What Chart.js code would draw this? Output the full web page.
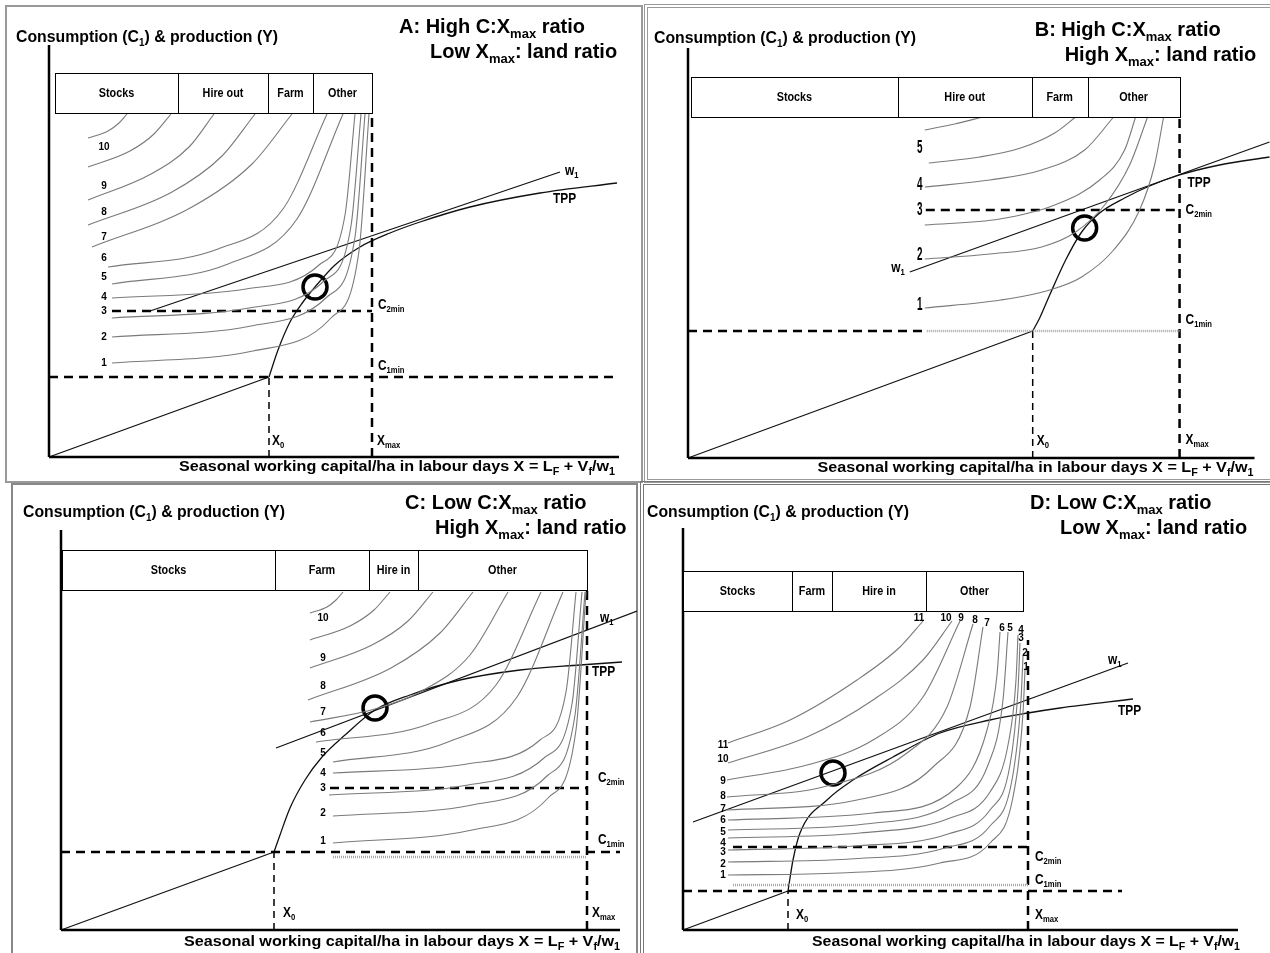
<!DOCTYPE html>
<html>
<head>
<meta charset="utf-8">
<script src="https://cdn.jsdelivr.net/npm/chart.js@4.4.1/dist/chart.umd.min.js"></script>
<style>
  body { margin: 0; background: #fff; width: 1270px; height: 953px; position: relative; overflow: hidden; }
  .frame { position: absolute; box-sizing: border-box; }
  canvas { position: absolute; }
</style>
</head>
<body>
<div class="frame" style="left:5px;top:5px;width:638px;height:478px;border:2px solid #999"></div>
<div class="frame" style="left:644px;top:4px;width:640px;height:479px;border:4px double #999"></div>
<div class="frame" style="left:11px;top:483px;width:627px;height:480px;border:2px solid #888"></div>
<div class="frame" style="left:640px;top:481px;width:640px;height:480px;border:4px double #777"></div>

<canvas id="chartA" width="638" height="478" style="left:5px;top:5px"></canvas>
<canvas id="chartB" width="625" height="478" style="left:645px;top:5px"></canvas>
<canvas id="chartC" width="625" height="470" style="left:12px;top:483px"></canvas>
<canvas id="chartD" width="629" height="471" style="left:641px;top:482px"></canvas>

<script>
// ---- Panel A : high C:Xmax, low Xmax:land ----
const aXMax = 57, aYMax = 41.2;
const aTableEdges = [0.6, 12.9, 21.9, 26.4, 32.3];
const aTableLabels = ['Stocks', 'Hire out', 'Farm', 'Other'];
const aTableY = [34.4, 38.4];
const aC1min = [8.0, 0, 56.8];     // level, from x, to x
const aC2min = [14.6, 6.3, 32.3];
const aXmaxLine = [32.3, 0, 34.4]; // x, from y, to y
const aX0Line = [22.0, 0, 8.0];
const aTppLinear = [[0, 0], [22, 8]];
const aTpp = [[22, 8], [22.9, 10.7], [24.1, 13.5], [25.4, 15.5], [26.6, 17], [28.6, 19.2], [31.1, 21], [34.1, 22.4], [37.1, 23.5], [42.1, 25], [49.1, 26.4], [56.8, 27.4]];
const aW1 = [[10.1, 14.6], [51.1, 28.5]];
const aOptimum = [26.6, 17.0];
const aCurves = [
  [[3.9, 31.9], [5.9, 32.6], [7.0, 33.4], [7.8, 34.3]],
  [[3.9, 29.0], [8.1, 30.6], [10.5, 32.3], [12.2, 34.3]],
  [[3.9, 25.7], [10.2, 28.3], [14.0, 31.0], [16.5, 34.3]],
  [[3.9, 23.2], [12.3, 26.5], [17.3, 30.1], [20.6, 34.3]],
  [[4.3, 21.0], [14.3, 25.0], [20.3, 29.3], [24.3, 34.3]],
  [[5.9, 19.0], [16.9, 20.8], [23.4, 24.8], [27.8, 34.3]],
  [[6.3, 17.3], [17.9, 19.3], [24.8, 23.8], [29.4, 34.3]],
  [[6.3, 15.9], [19.7, 16.8], [27.0, 19.2], [29.6, 24.2], [30.6, 34.3]],
  [[6.3, 13.9], [20.0, 14.9], [27.5, 17.6], [30.2, 23.1], [31.2, 34.3]],
  [[6.3, 12.0], [20.2, 13.1], [27.8, 16.0], [30.6, 22.0], [31.6, 34.3]],
  [[6.3, 9.4], [20.4, 10.6], [28.2, 13.9], [31.0, 20.6], [32.0, 34.3]]
];
const aCurveNums = ['10', '9', '8', '7', '6', '5', '4', '3', '2', '1'];
const aCurveNumY = [31.0, 27.1, 24.5, 22.0, 19.9, 18.0, 16.0, 14.6, 12.0, 9.4];

// ---- Panel B : high C:Xmax, high Xmax:land ----
const bXMax = 56.7, bYMax = 41;
const bTableEdges = [0.3, 21.0, 34.4, 40.0, 49.2];
const bTableLabels = ['Stocks', 'Hire out', 'Farm', 'Other'];
const bTableY = [34.1, 38.1];
const bC1min = [12.7, 0, 23.5];
const bFloor = [12.7, 23.9, 49.2];
const bC2min = [24.8, 23.8, 49.2];
const bXmaxLine = [49.2, 0, 34.1];
const bX0Line = [34.5, 0, 12.7];
const bTppLinear = [[0, 0], [34.5, 12.7]];
const bTpp = [[34.5, 12.7], [35.2, 14.0], [36.2, 16.3], [37.8, 19.8], [39.4, 22.6], [41.2, 24.5], [43.7, 26.0], [46.2, 27.2], [49.2, 28.3], [53.2, 29.3], [58.2, 30.1]];
const bW1 = [[22.2, 18.6], [58.2, 31.6]];
const bOptimum = [39.7, 23.0];
const bCurves = [
  [[23.7, 32.8], [26.7, 33.4], [29.5, 34.1]],
  [[24.1, 29.5], [29.2, 30.1], [33.3, 31.0], [36.7, 32.5], [38.8, 34.1]],
  [[23.7, 27.1], [30.2, 27.8], [35.4, 28.8], [39.7, 30.8], [42.6, 34.1]],
  [[23.7, 23.3], [31.2, 23.9], [36.7, 25.3], [41.2, 27.8], [43.7, 30.8], [44.8, 34.1]],
  [[23.7, 19.9], [30.2, 20.4], [35.4, 21.1], [38.8, 22.6], [41.7, 25.3], [44.2, 29.3], [46.0, 34.1]],
  [[23.7, 15.0], [31.3, 15.8], [36.2, 16.8], [39.4, 18.1], [42.6, 20.8], [45.2, 24.8], [46.7, 29.3], [47.6, 34.1]]
];
const bCurveNums = ['5', '4', '3', '2', '1'];
const bCurveNumY = [31.0, 27.3, 24.8, 20.3, 15.3];

// ---- Panel C : low C:Xmax, high Xmax:land ----
const cXMax = 55.9, cYMax = 40;
const cTableEdges = [0.1, 21.4, 30.8, 35.7, 52.6];
const cTableLabels = ['Stocks', 'Farm', 'Hire in', 'Other'];
const cTableY = [34, 38];
const cC1min = [7.8, 0, 55.9];
const cFloor = [7.3, 27.2, 52.5];
const cC2min = [14.2, 26.9, 52.6];
const cXmaxLine = [52.6, 0, 34];
const cX0Line = [21.3, 0, 7.8];
const cTppLinear = [[0, 0], [21.3, 7.8]];
const cTpp = [[21.3, 7.8], [21.9, 9.5], [22.9, 12.2], [24.4, 15.0], [26.1, 17.3], [28.4, 19.5], [31.4, 22.0], [34.9, 23.5], [39.9, 25.0], [45.9, 26.0], [51.9, 26.5], [56.1, 26.8]];
const cW1 = [[21.5, 18.2], [57.6, 31.9]];
const cOptimum = [31.4, 22.2];
const cCurves = [
  [[24.9, 31.7], [26.6, 32.3], [27.5, 33.0], [28.2, 33.8]],
  [[24.9, 29.0], [28.9, 30.4], [31.3, 32.0], [32.9, 33.8]],
  [[24.9, 26.2], [31.1, 28.5], [34.7, 30.9], [37.2, 33.8]],
  [[24.7, 23.0], [33.0, 26.2], [37.9, 29.7], [41.2, 33.8]],
  [[24.9, 20.8], [31.4, 22.1], [35.9, 23.8], [40.9, 27.5], [44.7, 33.8]],
  [[25.5, 18.8], [36.8, 20.6], [43.5, 24.5], [48.0, 33.8]],
  [[27.2, 16.8], [38.7, 18.8], [45.6, 23.3], [50.2, 33.8]],
  [[27.2, 15.7], [40.6, 16.6], [47.9, 19.0], [50.5, 23.8], [51.5, 33.8]],
  [[26.8, 13.5], [40.7, 14.5], [48.3, 17.2], [51.1, 22.6], [52.1, 33.8]],
  [[27.2, 11.4], [41.1, 12.5], [48.6, 15.4], [51.4, 21.5], [52.4, 33.8]],
  [[27.2, 8.7], [41.1, 10.0], [48.7, 13.2], [51.5, 20.0], [52.5, 33.8]]
];
const cCurveNums = ['10', '9', '8', '7', '6', '5', '4', '3', '2', '1'];
const cCurveNumY = [31.2, 27.2, 24.4, 21.8, 19.7, 17.7, 15.7, 14.2, 11.7, 8.9];

// ---- Panel D : low C:Xmax, low Xmax:land ----
const dXMax = 55.5, dYMax = 40.2;
const dTableEdges = [0, 10.9, 14.9, 24.3, 34.0];
const dTableLabels = ['Stocks', 'Farm', 'Hire in', 'Other'];
const dTableY = [31.9, 35.9];
const dC1min = [3.9, 0, 43.9];
const dFloor = [4.5, 5.0, 34.5];
const dC2min = [8.3, 5.0, 34.5];
const dXmaxLine = [34.5, 0, 29];
const dX0Line = [10.5, 0, 3.9];
const dTppLinear = [[0, 0], [10.5, 3.9]];
const dTpp = [[10.5, 3.9], [11.0, 7.0], [11.7, 9.7], [14.4, 13.0], [17.0, 15.0], [21.0, 17.3], [25.7, 19.7], [30.7, 21.0], [34.5, 21.7], [37.7, 22.2], [45.0, 23.1]];
const dW1 = [[1.0, 10.8], [44.5, 26.7]];
const dOptimum = [15.0, 15.7];
const dCurves = [
  [[4.5, 18.7], [10.7, 21.0], [17.4, 25.0], [21.7, 28.3], [24.0, 30.9]],
  [[4.5, 16.7], [12.4, 19.3], [19.0, 23.0], [24.0, 27.0], [26.9, 30.9]],
  [[4.4, 15.0], [12.4, 16.5], [19.0, 19.0], [24.0, 23.3], [27.7, 30.9]],
  [[4.4, 13.3], [14.0, 14.3], [22.4, 17.7], [26.4, 22.3], [29.0, 30.6]],
  [[4.4, 12.0], [17.4, 13.0], [25.0, 16.3], [28.7, 22.3], [30.0, 30.3]],
  [[4.5, 11.0], [19.0, 11.7], [27.4, 14.3], [30.4, 20.0], [31.4, 25.5], [31.7, 29.8]],
  [[4.5, 10.0], [18.2, 10.6], [26.9, 12.7], [30.5, 16.5], [32.0, 23.0], [32.5, 29.8]],
  [[4.5, 9.2], [17.7, 9.7], [26.7, 11.2], [30.7, 13.8], [32.5, 18.5], [33.3, 25.0], [33.5, 29.5]],
  [[4.5, 8.0], [17.2, 8.4], [26.5, 9.6], [30.7, 12.0], [32.7, 16.5], [33.5, 24.0], [33.7, 28.7]],
  [[4.5, 6.8], [16.7, 7.1], [26.2, 8.2], [30.7, 10.4], [32.9, 15.0], [33.8, 23.0], [34.0, 27.4]],
  [[4.5, 5.5], [15.7, 5.7], [25.7, 6.7], [30.7, 8.7], [33.0, 13.3], [34.0, 21.7], [34.2, 26.0]]
];
const dCurveNums = ['11', '10', '9', '8', '7', '6', '5', '4', '3', '2', '1'];
const dCurveNumY = [18.5, 17.1, 14.9, 13.4, 12.1, 11.0, 9.8, 8.7, 7.8, 6.6, 5.5];
const dTopNumX = [23.6, 26.3, 27.8, 29.2, 30.4, 31.9, 32.7, 33.8, 33.8, 34.2, 34.3];
const dTopNumY = [31.2, 31.2, 31.2, 31.0, 30.7, 30.2, 30.2, 30.0, 29.2, 27.7, 26.3];

// ---- styles ----
const FONT = '"Liberation Sans", Arial, sans-serif';
const AXIS = { borderWidth: 2.5, borderColor: '#000' };
const CURVE = { borderWidth: 1.1, borderColor: '#7a7a7a', cubicInterpolationMode: 'monotone' };
const DASH = { borderWidth: 2.5, borderColor: '#000', borderDash: [9, 6] };
const THIN_DASH = { borderWidth: 1.5, borderColor: '#000', borderDash: [7, 5] };
const FLOOR = { borderWidth: 2.5, borderColor: '#a8a8a8', borderDash: [1, 1] };
const TPP = { borderWidth: 1.3, borderColor: '#111', cubicInterpolationMode: 'monotone' };
const W1 = { borderWidth: 1.3, borderColor: '#111' };

const T_TITLE = { size: 20, bold: true, subSize: 13 };
const T_YLAB = { size: 16, bold: true, w: 262 };
const T_XLAB = { size: 15, bold: true, w: 436, align: 'right' };
const T_NOTE = { size: 14, bold: true, sx: 0.85 };
const T_NUM = { size: 10, bold: true, align: 'center' };
const T_NUM_B = { size: 18, bold: true, sx: 0.55, align: 'center' };
const T_CELL = { size: 12, bold: true, sx: 0.9, align: 'center' };

const Y_LABEL = 'Consumption (C_{1}) & production (Y)';
const X_LABEL = 'Seasonal working capital/ha in labour days X = L_{F} + V_{f}/w_{1}';

// text with _{...} subscripts, squeezed horizontally if asked
function drawRich(ctx, str, x, y, o) {
  const parts = str.split(/(_\{[^}]*\})/).filter(p => p !== '').map(p =>
    p.startsWith('_{') ? { t: p.slice(2, -1), sub: true } : { t: p, sub: false });
  const mainFont = (o.bold ? 'bold ' : '') + o.size + 'px ' + FONT;
  const subBold = o.subBold !== undefined ? o.subBold : o.bold;
  const subFont = (subBold ? 'bold ' : '') + (o.subSize || Math.round(o.size * 0.65)) + 'px ' + FONT;
  let total = 0;
  parts.forEach(p => {
    ctx.font = p.sub ? subFont : mainFont;
    p.w = ctx.measureText(p.t).width;
    total += p.w;
  });
  const sx = o.w ? o.w / total : (o.sx || 1);
  let left = x;
  if (o.align === 'center') left = x - total * sx / 2;
  if (o.align === 'right') left = x - total * sx;
  ctx.save();
  ctx.translate(left, y);
  ctx.scale(sx, 1);
  ctx.fillStyle = '#000';
  ctx.textBaseline = 'middle';
  ctx.textAlign = 'left';
  let cx = 0;
  parts.forEach(p => {
    ctx.font = p.sub ? subFont : mainFont;
    ctx.fillText(p.t, cx, p.sub ? o.size * 0.35 : 0);
    cx += p.w;
  });
  ctx.restore();
}

// labels, the activity table on top of the curves, then the rest of the text
function makeNotes(p) {
  return {
    id: 'notes',
    afterDatasetsDraw(chart) {
      const ctx = chart.ctx, xs = chart.scales.x, ys = chart.scales.y;
      const put = n => drawRich(ctx, n.s, xs.getPixelForValue(n.x), ys.getPixelForValue(n.y), n.o);
      p.under.forEach(put);

      const top = Math.round(ys.getPixelForValue(p.tableY[1])) + 0.5;
      const bot = Math.round(ys.getPixelForValue(p.tableY[0])) + 0.5;
      const x0 = Math.round(xs.getPixelForValue(p.tableEdges[0])) + 0.5;
      const x1 = Math.round(xs.getPixelForValue(p.tableEdges[p.tableEdges.length - 1])) + 0.5;
      ctx.save();
      ctx.fillStyle = '#fff';
      ctx.fillRect(x0, top, x1 - x0, bot - top);
      ctx.strokeStyle = '#000';
      ctx.lineWidth = 1;
      ctx.strokeRect(x0, top, x1 - x0, bot - top);
      p.tableEdges.slice(1, -1).forEach(e => {
        const px = Math.round(xs.getPixelForValue(e)) + 0.5;
        ctx.beginPath();
        ctx.moveTo(px, top);
        ctx.lineTo(px, bot);
        ctx.stroke();
      });
      ctx.restore();
      p.tableLabels.forEach((l, i) => {
        const cx = xs.getPixelForValue((p.tableEdges[i] + p.tableEdges[i + 1]) / 2);
        drawRich(ctx, l, cx, (top + bot) / 2, T_CELL);
      });

      p.texts.forEach(put);
    }
  };
}

function seg(points, style) {
  return Object.assign({
    data: points.map(pt => ({ x: pt[0], y: pt[1] })),
    borderColor: '#000',
    borderWidth: 1,
    pointRadius: 0,
    fill: false,
    tension: 0,
    clip: false
  }, style);
}

function buildPanel(id, p) {
  const datasets = [
    seg([[0, 0], [p.xMax, 0]], AXIS),
    seg([[0, 0], [0, p.yMax]], AXIS)
  ];
  p.curves.forEach(c => datasets.push(seg(c, CURVE)));
  if (p.floor) datasets.push(seg([[p.floor[1], p.floor[0]], [p.floor[2], p.floor[0]]], FLOOR));
  datasets.push(seg([[p.c1min[1], p.c1min[0]], [p.c1min[2], p.c1min[0]]], DASH));
  datasets.push(seg([[p.c2min[1], p.c2min[0]], [p.c2min[2], p.c2min[0]]], DASH));
  datasets.push(seg([[p.xmaxLine[0], p.xmaxLine[1]], [p.xmaxLine[0], p.xmaxLine[2]]], DASH));
  datasets.push(seg([[p.x0Line[0], p.x0Line[1]], [p.x0Line[0], p.x0Line[2]]], THIN_DASH));
  datasets.push(seg(p.tppLinear, W1));
  datasets.push(seg(p.tpp, TPP));
  datasets.push(seg(p.w1, W1));
  datasets.push(seg([p.optimum], {
    showLine: false,
    pointRadius: 12,
    pointBorderWidth: 3.5,
    pointBorderColor: '#000',
    pointBackgroundColor: 'rgba(0,0,0,0)'
  }));

  return new Chart(document.getElementById(id), {
    type: 'line',
    data: { datasets },
    options: {
      responsive: false,
      animation: false,
      events: [],
      layout: { padding: p.padding },
      scales: {
        x: { type: 'linear', min: 0, max: p.xMax, display: false },
        y: { type: 'linear', min: 0, max: p.yMax, display: false }
      },
      plugins: { legend: { display: false }, tooltip: { enabled: false } }
    },
    plugins: [makeNotes(p)]
  });
}

function numLabels(nums, x, ys, style) {
  return nums.map((n, i) => ({ s: n, x: Array.isArray(x) ? x[i] : x, y: ys[i], o: style }));
}

// Panel A
buildPanel('chartA', {
  xMax: aXMax, yMax: aYMax, padding: { left: 44, top: 40, right: 24, bottom: 26 },
  tableEdges: aTableEdges, tableLabels: aTableLabels, tableY: aTableY,
  c1min: aC1min, c2min: aC2min, xmaxLine: aXmaxLine, x0Line: aX0Line,
  tppLinear: aTppLinear, tpp: aTpp, w1: aW1, optimum: aOptimum, curves: aCurves,
  under: numLabels(aCurveNums, 5.5, aCurveNumY, T_NUM),
  texts: [
    { s: Y_LABEL, x: -3.3, y: 41.9, o: T_YLAB },
    { s: 'A: High C:X_{max} ratio', x: 35.0, y: 43.0, o: T_TITLE },
    { s: 'Low X_{max}: land ratio', x: 38.1, y: 40.5, o: T_TITLE },
    { s: X_LABEL, x: 56.6, y: -1.0, o: T_XLAB },
    { s: 'C_{2min}', x: 32.9, y: 15.2, o: T_NOTE },
    { s: 'C_{1min}', x: 32.9, y: 9.1, o: T_NOTE },
    { s: 'X_{0}', x: 22.3, y: 1.6, o: T_NOTE },
    { s: 'X_{max}', x: 32.8, y: 1.6, o: T_NOTE },
    { s: 'w_{1}', x: 51.6, y: 28.6, o: T_NOTE },
    { s: 'TPP', x: 50.4, y: 25.8, o: T_NOTE }
  ]
});

// Panel B
buildPanel('chartB', {
  xMax: bXMax, yMax: bYMax, padding: { left: 43, top: 43, right: 15, bottom: 25 },
  tableEdges: bTableEdges, tableLabels: bTableLabels, tableY: bTableY,
  c1min: bC1min, floor: bFloor, c2min: bC2min, xmaxLine: bXmaxLine, x0Line: bX0Line,
  tppLinear: bTppLinear, tpp: bTpp, w1: bW1, optimum: bOptimum, curves: bCurves,
  under: [{ s: '6', x: 23.3, y: 34.6, o: T_NUM_B }].concat(numLabels(bCurveNums, 23.2, bCurveNumY, T_NUM_B)),
  texts: [
    { s: Y_LABEL, x: -3.4, y: 41.9, o: T_YLAB },
    { s: 'B: High C:X_{max} ratio', x: 34.7, y: 42.8, o: T_TITLE },
    { s: 'High X_{max}: land ratio', x: 37.7, y: 40.3, o: T_TITLE },
    { s: X_LABEL, x: 56.6, y: -1.0, o: T_XLAB },
    { s: 'C_{2min}', x: 49.8, y: 24.8, o: T_NOTE },
    { s: 'C_{1min}', x: 49.8, y: 13.8, o: T_NOTE },
    { s: 'X_{0}', x: 34.9, y: 1.7, o: T_NOTE },
    { s: 'X_{max}', x: 49.8, y: 1.8, o: T_NOTE },
    { s: 'w_{1}', x: 21.7, y: 19.0, o: Object.assign({}, T_NOTE, { align: 'right' }) },
    { s: 'TPP', x: 50.0, y: 27.5, o: T_NOTE }
  ]
});

// Panel C
buildPanel('chartC', {
  xMax: cXMax, yMax: cYMax, padding: { left: 49, top: 47, right: 17, bottom: 23 },
  tableEdges: cTableEdges, tableLabels: cTableLabels, tableY: cTableY,
  c1min: cC1min, floor: cFloor, c2min: cC2min, xmaxLine: cXmaxLine, x0Line: cX0Line,
  tppLinear: cTppLinear, tpp: cTpp, w1: cW1, optimum: cOptimum, curves: cCurves,
  under: numLabels(cCurveNums, 26.2, cCurveNumY, T_NUM),
  texts: [
    { s: Y_LABEL, x: -3.8, y: 41.7, o: T_YLAB },
    { s: 'C: Low C:X_{max} ratio', x: 34.4, y: 42.7, o: T_TITLE },
    { s: 'High X_{max}: land ratio', x: 37.4, y: 40.2, o: T_TITLE },
    { s: X_LABEL, x: 55.9, y: -1.2, o: T_XLAB },
    { s: 'C_{2min}', x: 53.7, y: 15.2, o: T_NOTE },
    { s: 'C_{1min}', x: 53.7, y: 9.0, o: T_NOTE },
    { s: 'X_{0}', x: 22.2, y: 1.7, o: T_NOTE },
    { s: 'X_{max}', x: 53.1, y: 1.7, o: T_NOTE },
    { s: 'w_{1}', x: 53.9, y: 31.2, o: T_NOTE },
    { s: 'TPP', x: 53.1, y: 25.8, o: T_NOTE }
  ]
});

// Panel D
buildPanel('chartD', {
  xMax: dXMax, yMax: dYMax, padding: { left: 42, top: 46, right: 32, bottom: 23 },
  tableEdges: dTableEdges, tableLabels: dTableLabels, tableY: dTableY,
  c1min: dC1min, floor: dFloor, c2min: dC2min, xmaxLine: dXmaxLine, x0Line: dX0Line,
  tppLinear: dTppLinear, tpp: dTpp, w1: dW1, optimum: dOptimum, curves: dCurves,
  under: numLabels(dCurveNums, 4.0, dCurveNumY, T_NUM),
  texts: numLabels(dCurveNums, dTopNumX, dTopNumY, T_NUM).concat([
    { s: Y_LABEL, x: -3.6, y: 41.7, o: T_YLAB },
    { s: 'D: Low C:X_{max} ratio', x: 34.7, y: 42.7, o: T_TITLE },
    { s: 'Low X_{max}: land ratio', x: 37.7, y: 40.2, o: T_TITLE },
    { s: X_LABEL, x: 55.7, y: -1.2, o: Object.assign({}, T_XLAB, { w: 428 }) },
    { s: 'C_{2min}', x: 35.2, y: 7.3, o: T_NOTE },
    { s: 'C_{1min}', x: 35.2, y: 5.0, o: T_NOTE },
    { s: 'X_{0}', x: 11.3, y: 1.5, o: T_NOTE },
    { s: 'X_{max}', x: 35.2, y: 1.5, o: T_NOTE },
    { s: 'w_{1}', x: 42.5, y: 27.0, o: T_NOTE },
    { s: 'TPP', x: 43.5, y: 21.9, o: T_NOTE }
  ])
});
</script>
</body>
</html>
